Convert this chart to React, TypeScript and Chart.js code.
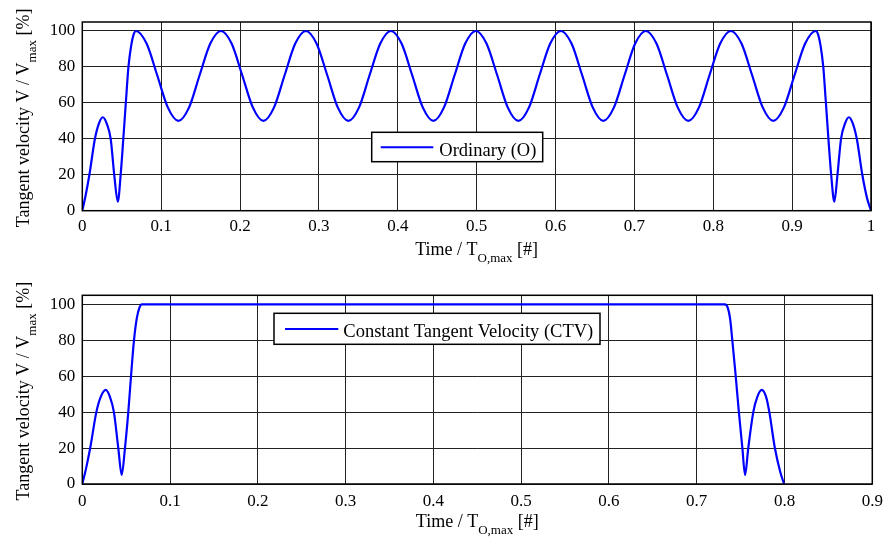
import React, { useEffect, useRef } from 'react';
import { Chart, registerables } from 'chart.js';

Chart.register(...registerables);

// ---------- data ----------
const ordinaryTime = [
  0, 0.004, 0.009, 0.016, 0.021, 0.026, 0.031, 0.036, 0.0405, 0.045, 0.049, 0.052, 0.0555, 0.0585, 0.062, 0.065,
  0.068, 0.0815, 0.0949, 0.1084, 0.1219, 0.1354, 0.1488, 0.1623,
  0.1758, 0.1893, 0.2027, 0.2162, 0.2296, 0.2431, 0.2566, 0.27,
  0.2835, 0.297, 0.3105, 0.3239, 0.3374, 0.3509, 0.3643, 0.3778,
  0.3913, 0.4048, 0.4182, 0.4317, 0.4451, 0.4586, 0.4721, 0.4855,
  0.499, 0.5125, 0.526, 0.5394, 0.5529, 0.5664, 0.5798, 0.5933,
  0.6068, 0.6203, 0.6337, 0.6472, 0.6606, 0.6741, 0.6876, 0.701,
  0.7145, 0.728, 0.7414, 0.7549, 0.7684, 0.7819, 0.7953, 0.8088,
  0.8223, 0.8358, 0.8492, 0.8627, 0.8761, 0.8896, 0.9031, 0.9165,
  0.93, 0.933, 0.936, 0.9395, 0.9425, 0.946, 0.9495, 0.9535, 0.9575, 0.962, 0.967, 0.972, 0.977, 0.982, 0.989, 0.995, 1.0,
];
const ordinaryVelocity = [
  0, 8, 20, 40, 48.5, 52, 48.5, 40, 20, 5, 22, 40, 62, 80, 92, 98,
  100, 93, 75.5, 57.5, 50, 57.5, 75.5, 93,
  100, 93, 75.5, 57.5, 50, 57.5, 75.5, 93,
  100, 93, 75.5, 57.5, 50, 57.5, 75.5, 93,
  100, 93, 75.5, 57.5, 50, 57.5, 75.5, 93,
  100, 93, 75.5, 57.5, 50, 57.5, 75.5, 93,
  100, 93, 75.5, 57.5, 50, 57.5, 75.5, 93,
  100, 93, 75.5, 57.5, 50, 57.5, 75.5, 93,
  100, 93, 75.5, 57.5, 50, 57.5, 75.5, 93,
  100, 98, 92, 80, 62, 40, 20, 5, 20, 40, 48.5, 52, 48.5, 40, 20, 7, 0,
];

const ctvTime = [
  0, 0.004, 0.009, 0.016, 0.021, 0.0267, 0.0315, 0.036, 0.041, 0.0449, 0.0486, 0.0524, 0.0555, 0.0589, 0.062, 0.065, 0.0677,
  0.2, 0.4, 0.6, 0.732, 0.735, 0.738, 0.7405, 0.7444, 0.748, 0.752, 0.755, 0.7587, 0.7644, 0.769, 0.774, 0.779, 0.7827, 0.789, 0.795, 0.7995,
];
const ctvVelocity = [
  0, 8, 20, 40, 48.5, 52.4, 48.5, 40, 20, 5, 20, 40, 60, 80, 92, 98, 100,
  100, 100, 100, 100, 98.5, 92, 80, 60, 40, 20, 5, 20, 40, 48.5, 52.4, 48.5, 40, 20, 7, 0,
];

const velocityTicks = [0, 20, 40, 60, 80, 100];
const topTimeTicks = [0, 0.1, 0.2, 0.3, 0.4, 0.5, 0.6, 0.7, 0.8, 0.9, 1];
const bottomTimeTicks = [0, 0.1, 0.2, 0.3, 0.4, 0.5, 0.6, 0.7, 0.8, 0.9];

const yTitleParts = ['Tangent velocity V / V', 'max', ' [%]'];
const xTitleParts = ['Time / T', 'O,max', ' [#]'];
const topLegendLabel = 'Ordinary (O)';
const bottomLegendLabel = 'Constant Tangent Velocity (CTV)';

// ---------- styling ----------
const SERIF = '"Liberation Serif", "Times New Roman", serif';
const BLUE = '#0000ff';

type LegendBox = { x0: number; y0: number; x1: number; y1: number; lx0: number; lx1: number; ly: number; tx: number; ty: number };

function drawSubText(ctx: CanvasRenderingContext2D, parts: string[], cx: number, baseline: number) {
  const mainFont = `18px ${SERIF}`;
  const subFont = `13px ${SERIF}`;
  ctx.font = mainFont;
  const w0 = ctx.measureText(parts[0]).width;
  const w2 = ctx.measureText(parts[2]).width;
  ctx.font = subFont;
  const w1 = ctx.measureText(parts[1]).width;
  const total = w0 + w1 + w2;
  let x = cx - total / 2;
  ctx.fillStyle = '#000';
  ctx.textBaseline = 'alphabetic';
  ctx.textAlign = 'left';
  ctx.font = mainFont;
  ctx.fillText(parts[0], x, baseline);
  x += w0;
  ctx.font = subFont;
  ctx.fillText(parts[1], x, baseline + 7);
  x += w1;
  ctx.font = mainFont;
  ctx.fillText(parts[2], x, baseline);
}

function makeDecor(legend: LegendBox, label: string, xTitleOffset: number) {
  return {
    id: 'decor',
    afterDraw(chart: any) {
      const ctx: CanvasRenderingContext2D = chart.ctx;
      const a = chart.chartArea;
      ctx.save();
      // axes frame
      ctx.strokeStyle = '#000';
      ctx.lineWidth = 1.5;
      ctx.strokeRect(a.left, a.top, a.right - a.left, a.bottom - a.top);
      // legend
      ctx.fillStyle = '#fff';
      ctx.fillRect(legend.x0, legend.y0, legend.x1 - legend.x0, legend.y1 - legend.y0);
      ctx.strokeStyle = '#000';
      ctx.lineWidth = 1.5;
      ctx.strokeRect(legend.x0, legend.y0, legend.x1 - legend.x0, legend.y1 - legend.y0);
      ctx.strokeStyle = BLUE;
      ctx.lineWidth = 2;
      ctx.beginPath();
      ctx.moveTo(legend.lx0, legend.ly);
      ctx.lineTo(legend.lx1, legend.ly);
      ctx.stroke();
      ctx.fillStyle = '#000';
      ctx.font = `18.5px ${SERIF}`;
      ctx.textAlign = 'left';
      ctx.textBaseline = 'alphabetic';
      ctx.fillText(label, legend.tx, legend.ty);
      // x title
      drawSubText(ctx, xTitleParts, (a.left + a.right) / 2, a.bottom + xTitleOffset);
      // y title (rotated)
      ctx.save();
      ctx.translate(29, (a.top + a.bottom) / 2 + 1.5);
      ctx.rotate(-Math.PI / 2);
      drawSubText(ctx, yTitleParts, 0, 0);
      ctx.restore();
      ctx.restore();
    },
  };
}

function makeConfig(opts: {
  times: number[];
  values: number[];
  label: string;
  xMax: number;
  xTicks: number[];
  axisHeight: number;
  xPad: number;
  padTop: number;
  padRight: number;
  legend: LegendBox;
  xTitleOffset: number;
}): any {
  const tickFont = { family: SERIF, size: 17 };
  return {
    type: 'line',
    data: {
      datasets: [
        {
          label: opts.label,
          data: opts.times.map((t, i) => ({ x: t, y: opts.values[i] })),
          borderColor: BLUE,
          borderWidth: 2.2,
          pointRadius: 0,
          fill: false,
          cubicInterpolationMode: 'monotone',
        },
      ],
    },
    options: {
      responsive: false,
      animation: false,
      events: [],
      layout: { padding: { top: opts.padTop, right: opts.padRight, left: 0, bottom: 0 } },
      plugins: { legend: { display: false }, tooltip: { enabled: false }, title: { display: false } },
      scales: {
        x: {
          type: 'linear',
          position: 'bottom',
          min: 0,
          max: opts.xMax,
          grid: { color: '#222', lineWidth: 1, drawTicks: false },
          border: { display: false },
          ticks: {
            font: tickFont,
            color: '#000',
            padding: opts.xPad,
            autoSkip: false,
            maxRotation: 0,
            callback: (v: number) => String(Math.round(v * 10) / 10),
          },
          afterBuildTicks: (s: any) => {
            s.ticks = opts.xTicks.map((v) => ({ value: v }));
          },
          afterFit: (s: any) => {
            s.height = opts.axisHeight;
            s.paddingLeft = 0;
            s.paddingRight = 0;
          },
        },
        y: {
          type: 'linear',
          min: 0,
          max: 105,
          grid: { color: '#222', lineWidth: 1, drawTicks: false },
          border: { display: false },
          ticks: { font: tickFont, color: '#000', padding: 7 },
          afterBuildTicks: (s: any) => {
            s.ticks = velocityTicks.map((v) => ({ value: v }));
          },
          afterFit: (s: any) => {
            s.width = 82.3;
            s.paddingTop = 0;
            s.paddingBottom = 0;
          },
        },
      },
    },
    plugins: [makeDecor(opts.legend, opts.label, opts.xTitleOffset)],
  };
}

function Panel(props: { top: number; config: any }) {
  const ref = useRef<HTMLCanvasElement>(null);
  useEffect(() => {
    if (!ref.current) return;
    const chart = new Chart(ref.current, props.config);
    return () => chart.destroy();
  }, []);
  return (
    <canvas
      ref={ref}
      width={885}
      height={269}
      style={{ position: 'absolute', left: 0, top: props.top, width: 885, height: 269, display: 'block' }}
    />
  );
}

export default function App() {
  const topConfig = makeConfig({
    times: ordinaryTime,
    values: ordinaryVelocity,
    label: topLegendLabel,
    xMax: 1,
    xTicks: topTimeTicks,
    axisHeight: 269 - 210.7,
    xPad: 6,
    padTop: 22,
    padRight: 885 - 871,
    legend: { x0: 371.7, y0: 132.3, x1: 542.7, y1: 161.7, lx0: 380.7, lx1: 433.3, ly: 147.3, tx: 439.3, ty: 155.5 },
    xTitleOffset: 44.3,
  });
  const bottomConfig = makeConfig({
    times: ctvTime,
    values: ctvVelocity,
    label: bottomLegendLabel,
    xMax: 0.9,
    xTicks: bottomTimeTicks,
    axisHeight: 269 - 215,
    xPad: 7.5,
    padTop: 26.3,
    padRight: 885 - 872.3,
    legend: { x0: 274, y0: 44.3, x1: 600, y1: 75.3, lx0: 285, lx1: 338.3, ly: 60, tx: 343.3, ty: 68.3 },
    xTitleOffset: 43.3,
  });
  return (
    <div style={{ position: 'fixed', left: 0, top: 0, width: 885, height: 538, background: '#fff', overflow: 'hidden' }}>
      <Panel top={0} config={topConfig} />
      <Panel top={269} config={bottomConfig} />
    </div>
  );
}
